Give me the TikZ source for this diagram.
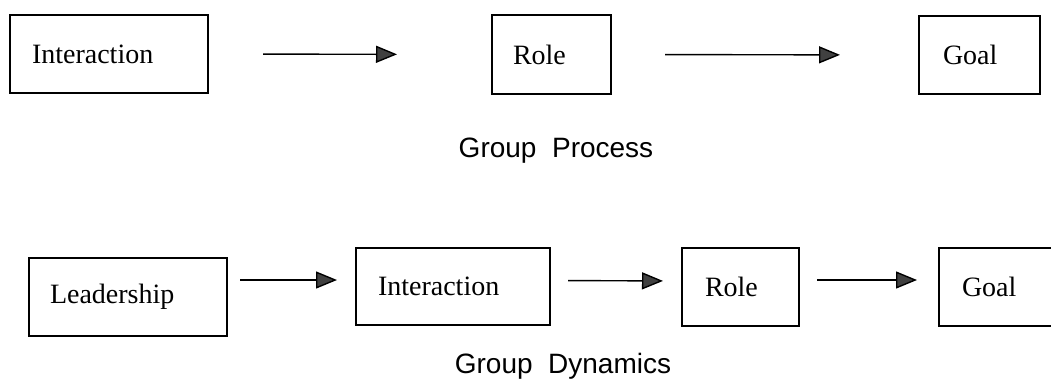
\documentclass[tikz,border=0pt]{standalone}
\usepackage{fontspec}
\setmainfont{Liberation Serif}
\setsansfont{Liberation Sans}
\usetikzlibrary{arrows.meta}
\begin{document}
\begin{tikzpicture}[x=1pt,y=-1pt,
  box/.style={draw, line width=1.5pt, anchor=north west, outer sep=0pt,
    inner ysep=0pt, align=left, font=\fontsize{28}{32}\selectfont},
  arr/.style={line width=1.4pt, -{Triangle[length=21pt,width=17pt,fill=black!75]}},
  grplabel/.style={anchor=base, font=\sffamily\fontsize{28}{32}\selectfont}]
\useasboundingbox (0,0) rectangle (1051,378);
% top row
\node[box, minimum width=198pt, minimum height=78pt, inner xsep=22pt, text width=154pt] (int1) at (10,15) {Interaction};
\node[box, minimum width=119pt, minimum height=79pt, inner xsep=21pt, text width=77pt] (role1) at (492,15) {Role};
\node[box, minimum width=121pt, minimum height=78pt, inner xsep=24pt, text width=73pt] (goal1) at (919,16) {Goal};
\draw[arr, shorten <=55pt, shorten >=95pt] (int1.east) -- (role1.west);
\draw[arr, shorten <=54pt, shorten >=79pt] (role1.east) -- (goal1.west);
\node[grplabel] (gp) at (556,157) {Group\ \ Process};
% bottom row
\node[box, minimum width=198pt, minimum height=78pt, inner xsep=21pt, text width=156pt] (lead) at (29,258) {Leadership};
\node[box, minimum width=194pt, minimum height=77pt, inner xsep=22pt, text width=150pt] (int2) at (356,248) {Interaction};
\node[box, minimum width=117pt, minimum height=78pt, inner xsep=23pt, text width=71pt] (role2) at (682,248) {Role};
\node[box, draw=none, minimum width=112pt, minimum height=78pt, inner xsep=23pt, text width=66pt] (goal2) at (939,248) {Goal};
\draw[line width=1.5pt] (goal2.north east) -- (goal2.north west) -- (goal2.south west) -- (goal2.south east);
\draw[arr, shorten <=13pt, shorten >=19pt] ([yshift=17pt]lead.east) -- ([yshift=17pt]lead.east -| int2.west);
\draw[arr, shorten <=18pt, shorten >=19pt] ([yshift=6pt]int2.east) -- ([yshift=6pt]role2.west);
\draw[arr, shorten <=18pt, shorten >=22pt] ([yshift=7pt]role2.east) -- ([yshift=7pt]goal2.west);
\node[grplabel] (gd) at (563,373) {Group\ \ Dynamics};
\end{tikzpicture}
\end{document}
